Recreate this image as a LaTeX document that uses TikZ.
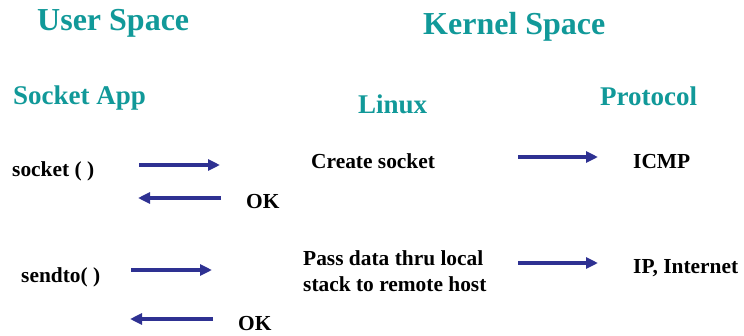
\documentclass[tikz,border=0pt]{standalone}
\usepackage{fontspec}
\setmainfont{Liberation Serif}
\usetikzlibrary{arrows.meta}
\definecolor{headteal}{RGB}{17,153,153}
\definecolor{flownavy}{RGB}{46,49,146}
\begin{document}
\begin{tikzpicture}[x=1pt,y=-1pt,
  title/.style={anchor=base west,inner sep=0pt,text=headteal,font=\bfseries\fontsize{32}{36}\selectfont},
  colhead/.style={anchor=base west,inner sep=0pt,text=headteal,font=\bfseries\fontsize{27}{30}\selectfont},
  label/.style={anchor=base west,inner sep=0pt,font=\bfseries\fontsize{21.4}{26}\selectfont},
  flow/.style={draw=flownavy,line width=3.8pt,-{Triangle[length=12pt,width=11pt]}}]
\useasboundingbox (0,0) rectangle (744,335);

% headings
\node[title] (user) at (37,30) {User Space};
\node[title] (kernel) at (423,34) {Kernel Space};
\node[colhead] (app) at (13,104) {Socket App};
\node[colhead] (linux) at (358,113) {Linux};
\node[colhead] (proto) at (600,105) {Protocol};

% socket() exchange
\node[label] (socketcall) at (12,176) {socket ( )};
\node[label] (ok1) at (246,208) {OK};
\node[label] (create) at (311,168) {Create socket};
\node[label] (icmp) at (633,168) {ICMP};

% sendto() exchange; the base of a two-line node is its last line
\node[label] (sendcall) at (21,282) {sendto( )};
\node[label] (ok2) at (238,330) {OK};
\node[label,align=left] (pass) at (303,291) {Pass data thru local\\stack to remote host};
\node[label] (ipnet) at (633,273) {IP, Internet};

% arrow end points
\coordinate (a1s) at (139,165);  \coordinate (a1e) at (220,165);
\coordinate (a2s) at (221,198);  \coordinate (a2e) at (138,198);
\coordinate (a3s) at (131,270);  \coordinate (a3e) at (212,270);
\coordinate (a4s) at (213,319);  \coordinate (a4e) at (130,319);
\coordinate (a5s) at (518,157);  \coordinate (a5e) at (598,157);
\coordinate (a6s) at (518,263);  \coordinate (a6e) at (598,263);

\draw[flow] (a1s) -- (a1e);
\draw[flow] (a2s) -- (a2e);
\draw[flow] (a3s) -- (a3e);
\draw[flow] (a4s) -- (a4e);
\draw[flow] (a5s) -- (a5e);
\draw[flow] (a6s) -- (a6e);
\end{tikzpicture}
\end{document}
